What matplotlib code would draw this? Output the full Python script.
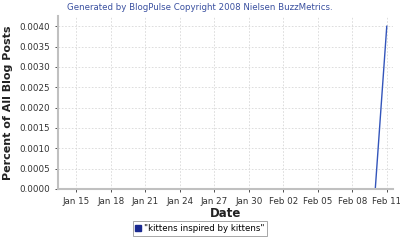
import numpy as np
import pandas as pd
import matplotlib
matplotlib.use("Agg")
import matplotlib.pyplot as plt
import matplotlib.dates as mdates
from matplotlib.patches import Patch

# daily share of blog posts, Jan 14 - Feb 11 2008
dates = pd.date_range("2008-01-14", "2008-02-11", freq="D")
values = [0.0] * (len(dates) - 1) + [0.0040]
series_name = '"kittens inspired by kittens"'
yticks = np.arange(0, 0.00401, 0.0005)

fig = plt.figure(figsize=(4, 2.4), dpi=100)
ax = fig.add_axes([0.145, 0.2125, 0.8375, 0.7205])

ax.plot(dates, values, color="#3355bb", linewidth=1.0)

ax.set_xlim(pd.Timestamp("2008-01-13 10:00"), pd.Timestamp("2008-02-11 13:00"))
ax.set_ylim(0, 0.00425)
ax.set_yticks(yticks)
ax.yaxis.set_major_formatter(matplotlib.ticker.FormatStrFormatter("%.4f"))
ax.xaxis.set_major_locator(mdates.DayLocator(bymonthday=[15, 18, 21, 24, 27, 30, 2, 5, 8, 11]))
ax.xaxis.set_major_formatter(mdates.DateFormatter("%b %d"))

ax.grid(True, color="#d8d8d8", linestyle=(0, (2, 2)), linewidth=0.6)
for s in ["top", "right"]:
    ax.spines[s].set_visible(False)
for s in ["left", "bottom"]:
    ax.spines[s].set_color("#c0c0c0")
    ax.spines[s].set_linewidth(1.5)
ax.tick_params(labelsize=6.3, colors="#333333", length=2, width=0.6)
for lbl in ax.get_xticklabels() + ax.get_yticklabels():
    lbl.set_color("#333333")

ax.set_xlabel("Date", fontsize=8.5, fontweight="semibold", color="#222222", labelpad=1)
ax.set_ylabel("Percent of All Blog Posts", fontsize=8, fontweight="semibold", color="#222222", labelpad=5)

fig.text(0.5, 0.97, "Generated by BlogPulse Copyright 2008 Nielsen BuzzMetrics.",
         ha="center", va="center", fontsize=6.2, color="#3a50a0")

leg = fig.legend(handles=[Patch(facecolor="#1a2a90", edgecolor="#1a2a90", label=series_name)],
                 loc="center", bbox_to_anchor=(0.5, 0.048), fontsize=6.2,
                 handlelength=0.7, handleheight=0.7, handletextpad=0.3,
                 borderpad=0.3, fancybox=False, framealpha=1)
leg.get_frame().set_edgecolor("#999999")
leg.get_frame().set_linewidth(0.6)

fig.savefig("out.png", dpi=100)
